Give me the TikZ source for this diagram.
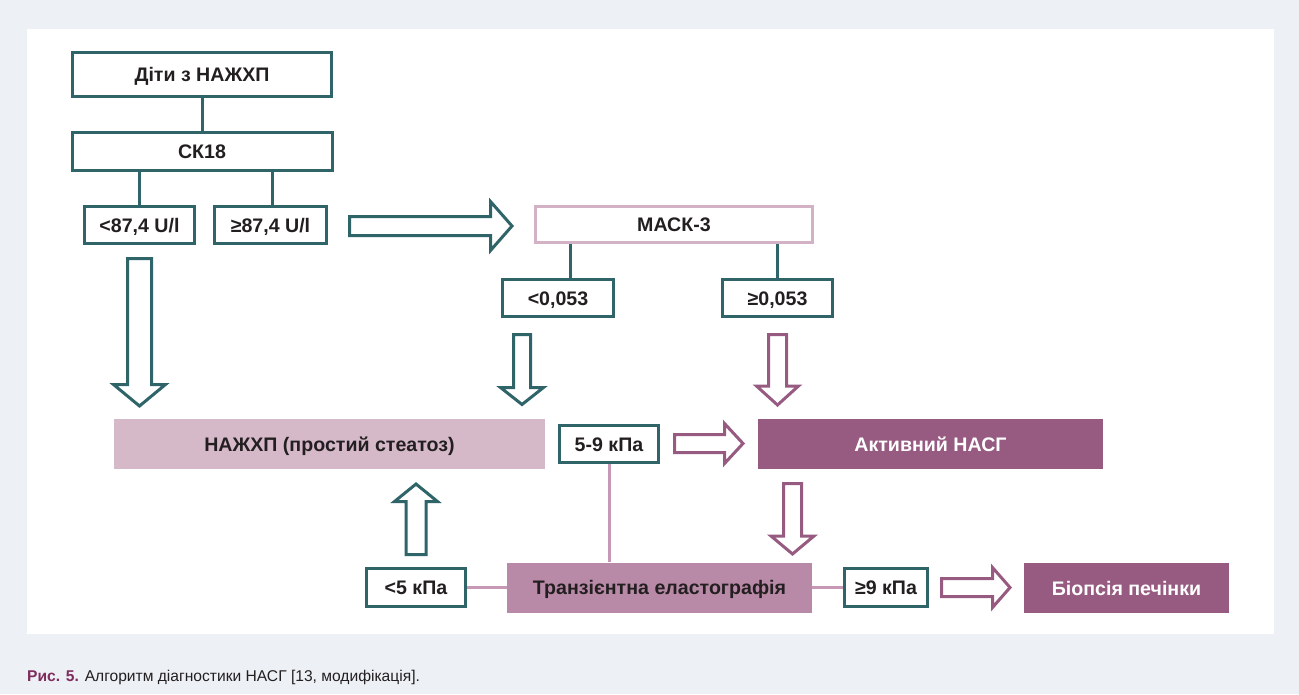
\documentclass[tikz,border=0pt]{standalone}
\usepackage{fontspec}
\setmainfont{Liberation Sans}
\definecolor{bgc}{HTML}{EDF1F5}
\definecolor{teal}{HTML}{2F6569}
\definecolor{pinklight}{HTML}{D5B9C8}
\definecolor{pinkborder}{HTML}{D3B2C5}
\definecolor{pinkmid}{HTML}{B98AA7}
\definecolor{plum}{HTML}{975B81}
\definecolor{pinkline}{HTML}{C698B5}
\definecolor{capred}{HTML}{7E2D5C}
\definecolor{txt}{HTML}{231F20}
\newcommand{\vblockarrow}[7]{%
  \draw[barrow,draw=#1] ({#2-#6},#3) -- ({#2+#6},#3) -- ({#2+#6},#4) -- ({#2+#7},#4) -- (#2,#5) -- ({#2-#7},#4) -- ({#2-#6},#4) -- cycle;}
\newcommand{\hblockarrow}[7]{%
  \draw[barrow,draw=#1] (#3,{#2-#6}) -- (#3,{#2+#6}) -- (#4,{#2+#6}) -- (#4,{#2+#7}) -- (#5,#2) -- (#4,{#2-#7}) -- (#4,{#2-#6}) -- cycle;}
\tikzset{
  lbl/.style={font=\fontsize{19.6}{22}\selectfont\bfseries, text=txt, inner sep=0pt, text height=14pt, text depth=0pt},
  tbox/.style={lbl, draw=teal, line width=3pt, fill=white},
  fbox/.style={lbl},
  barrow/.style={line width=3pt, fill=white, line join=miter},
  tline/.style={draw=teal, line width=3pt},
  pline/.style={draw=pinkline, line width=3pt},
}
\begin{document}
\begin{tikzpicture}[x=1pt,y=-1pt]
\useasboundingbox (0,0) rectangle (1299,694);
\fill[bgc] (0,0) rectangle (1299,694);
\fill[white] (27,29) rectangle (1274,634);

% boxes
\node[tbox, minimum width=259pt, minimum height=44pt] (diti) at (202,74) {Діти з НАЖХП};
\node[tbox, minimum width=260pt, minimum height=38pt] (ck) at (202,151.5) {СК18};
\node[tbox, minimum width=110pt, minimum height=37pt] (lt87) at (139.5,225) {<87,4 U/l};
\node[tbox, minimum width=112pt, minimum height=37pt] (ge87) at (270.5,225) {≥87,4 U/l};
\node[tbox, draw=pinkborder, minimum width=277pt, minimum height=36pt] (mack) at (674,224.5) {МАСК-3};
\node[tbox, minimum width=111pt, minimum height=37pt] (lt053) at (558,298) {<0,053};
\node[tbox, minimum width=110pt, minimum height=37pt] (ge053) at (777.5,298) {≥0,053};
\node[fbox, fill=pinklight, minimum width=431pt, minimum height=50pt] (nazhkhp) at (329.5,444) {НАЖХП (простий стеатоз)};
\node[tbox, minimum width=99pt, minimum height=37pt] (r59) at (609,444) {5-9 кПа};
\node[fbox, fill=plum, text=white, minimum width=345pt, minimum height=50pt] (nash) at (930.5,444) {Активний НАСГ};
\node[fbox, fill=pinkmid, minimum width=305pt, minimum height=50pt] (trans) at (659.5,587.5) {Транзієнтна еластографія};
\node[tbox, minimum width=99pt, minimum height=38pt] (lt5) at (416,587.5) {<5 кПа};
\node[tbox, minimum width=83pt, minimum height=38pt] (ge9) at (886,587.5) {≥9 кПа};
\node[fbox, fill=plum, text=white, minimum width=205pt, minimum height=50pt] (biop) at (1126.5,588) {Біопсія печінки};

% connectors
\draw[tline] (diti.south) -- (ck.north);
\draw[tline] (lt87.north) -- (lt87.north |- ck.south);
\draw[tline] ([xshift=1.5pt]ge87.north) -- ([xshift=1.5pt]ge87.north |- ck.south);
\draw[tline] ([xshift=12pt]lt053.north) -- ([xshift=12pt]lt053.north |- mack.south);
\draw[tline] (ge053.north) -- (ge053.north |- mack.south);
\draw[pline] (r59.south) -- (r59.south |- trans.north);
\draw[pline] (lt5.east) -- (trans.west);
\draw[pline] (trans.east) -- (ge9.west);

% block arrows
\vblockarrow{teal}{139.5}{258.5}{384.5}{406}{12}{26}
\vblockarrow{teal}{522}{334.5}{387.5}{404.5}{8.5}{21.5}
\vblockarrow{plum}{777.5}{334.5}{386}{405}{9}{21}
\vblockarrow{plum}{792.5}{483.5}{536}{554}{9}{21.5}
\vblockarrow{teal}{416}{554.5}{501.5}{484}{10}{21.5}
\hblockarrow{teal}{226}{349.5}{490.5}{512}{9.5}{24.5}
\hblockarrow{plum}{443.5}{674.5}{724.5}{743}{9}{20}
\hblockarrow{plum}{587.5}{941.5}{992.5}{1010}{9}{20}

% caption
\node[anchor=base west, inner sep=0pt, font=\fontsize{15.6}{18}\selectfont, text=txt] (cap) at (27,681) {\textbf{\color{capred}Рис. 5.} Алгоритм діагностики НАСГ [13, модифікація].};
\end{tikzpicture}
\end{document}
